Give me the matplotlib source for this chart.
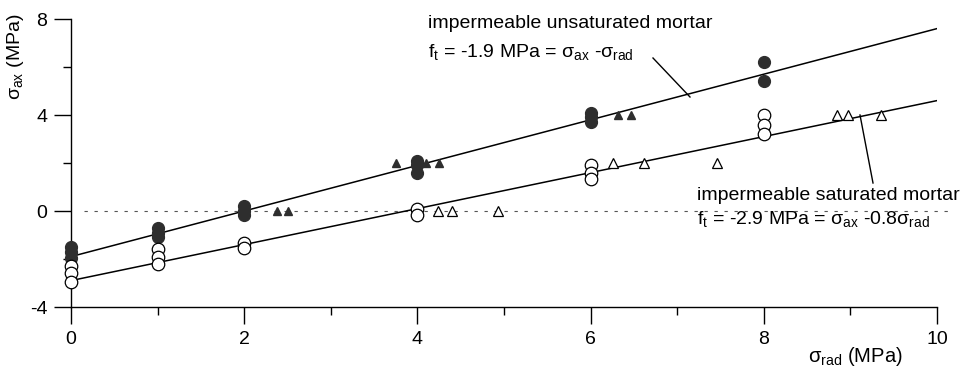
import numpy as np
import matplotlib.pyplot as plt
from matplotlib.ticker import MultipleLocator

plt.rcParams['font.family'] = ['Liberation Sans', 'DejaVu Sans']
plt.rcParams['mathtext.fontset'] = 'custom'
plt.rcParams['mathtext.rm'] = 'Liberation Sans'

# unsaturated mortar: filled circles
unsat_circ_x = [0, 0, 0, 1, 1, 1, 2, 2, 2, 4, 4, 4, 6, 6, 6, 8, 8]
unsat_circ_y = [-1.5, -1.7, -1.95, -0.7, -0.9, -1.1, 0.2, 0.0, -0.15,
                2.1, 1.9, 1.6, 4.1, 3.9, 3.7, 6.2, 5.4]
# unsaturated mortar: filled triangles
unsat_tri_x = [2.38, 2.5, 3.75, 4.1, 4.25, 6.32, 6.47]
unsat_tri_y = [0.0, 0.0, 2.0, 2.0, 2.0, 4.0, 4.0]

# saturated mortar: open circles
sat_circ_x = [0, 0, 0, 1, 1, 1, 2, 2, 4, 4, 6, 6, 6, 8, 8, 8]
sat_circ_y = [-2.3, -2.6, -2.95, -1.6, -1.9, -2.2, -1.35, -1.55,
              0.1, -0.15, 1.9, 1.6, 1.35, 4.0, 3.6, 3.2]
# saturated mortar: open triangles
sat_tri_x = [4.24, 4.4, 4.93, 6.26, 6.62, 7.46, 8.84, 8.97, 9.35]
sat_tri_y = [0.0, 0.0, 0.0, 2.0, 2.0, 2.0, 4.0, 4.0, 4.0]

# fitted lines (intercept, slope)
unsat_fit = (-1.9, 0.95)
sat_fit = (-2.9, 0.75)

fig = plt.figure(figsize=(9.73, 3.68), dpi=100)
ax = fig.add_axes([71 / 973, 1 - 307 / 368, 866 / 973, 288 / 368])

xs = np.array([0, 10])
ax.plot([0.15, 10.2], [0, 0], color='#555555', lw=0.8,
        linestyle=(0, (3, 6)), clip_on=False, zorder=1)
ax.plot(xs, unsat_fit[0] + unsat_fit[1] * xs, color='black', lw=1.1, zorder=2)
ax.plot(xs, sat_fit[0] + sat_fit[1] * xs, color='black', lw=1.1, zorder=2)

ax.plot(unsat_circ_x, unsat_circ_y, 'o', ms=8.5, color='#2e2e2e',
        mec='#2e2e2e', clip_on=False, zorder=3)
ax.plot(unsat_tri_x, unsat_tri_y, '^', ms=6, color='#2e2e2e',
        mec='#2e2e2e', clip_on=False, zorder=3)
ax.plot(sat_circ_x, sat_circ_y, 'o', ms=9, mfc='white', mec='black',
        mew=0.9, clip_on=False, zorder=3)
ax.plot(sat_tri_x, sat_tri_y, '^', ms=6.5, mfc='white', mec='black',
        mew=0.9, clip_on=False, zorder=3)

ax.set_xlim(0, 10)
ax.set_ylim(-4, 8)
ax.xaxis.set_major_locator(MultipleLocator(2))
ax.xaxis.set_minor_locator(MultipleLocator(1))
ax.yaxis.set_major_locator(MultipleLocator(4))
ax.yaxis.set_minor_locator(MultipleLocator(2))
ax.tick_params(which='major', direction='out', length=12, width=1,
               labelsize=14, pad=5)
ax.tick_params(which='minor', direction='out', length=6, width=1)
ax.spines['top'].set_visible(False)
ax.spines['right'].set_visible(False)
for s in ('left', 'bottom'):
    ax.spines[s].set_linewidth(1.0)
ax.yaxis.set_major_formatter(lambda v, p: f'{v:.0f}'.replace('\u2212', '-'))

fig.text(16 / 973, 1 - 57 / 368, 'σ$_{\\rm ax}$ (MPa)', rotation=90,
         ha='center', va='center', fontsize=14)
fig.text(855 / 973, 1 - 356 / 368, 'σ$_{\\rm rad}$ (MPa)',
         ha='center', va='center', fontsize=14.5)

tk = dict(fontsize=14, ha='left', va='center')
fig.text(428 / 973, 1 - 23 / 368, 'impermeable unsaturated mortar', **tk)
fig.text(428 / 973, 1 - 53 / 368,
         'f$_{\\rm t}$ = -1.9 MPa = σ$_{\\rm ax}$ -σ$_{\\rm rad}$', **tk)
fig.text(697 / 973, 1 - 195 / 368, 'impermeable saturated mortar', **tk)
fig.text(697 / 973, 1 - 220 / 368,
         'f$_{\\rm t}$ = -2.9 MPa = σ$_{\\rm ax}$ -0.8σ$_{\\rm rad}$', **tk)

# leader lines
fig.add_artist(plt.Line2D([653 / 973, 690 / 973], [1 - 58 / 368, 1 - 97 / 368],
                          color='black', lw=1))
fig.add_artist(plt.Line2D([860 / 973, 873 / 973], [1 - 115 / 368, 1 - 183 / 368],
                          color='black', lw=1))

fig.savefig('out.png', dpi=100)
